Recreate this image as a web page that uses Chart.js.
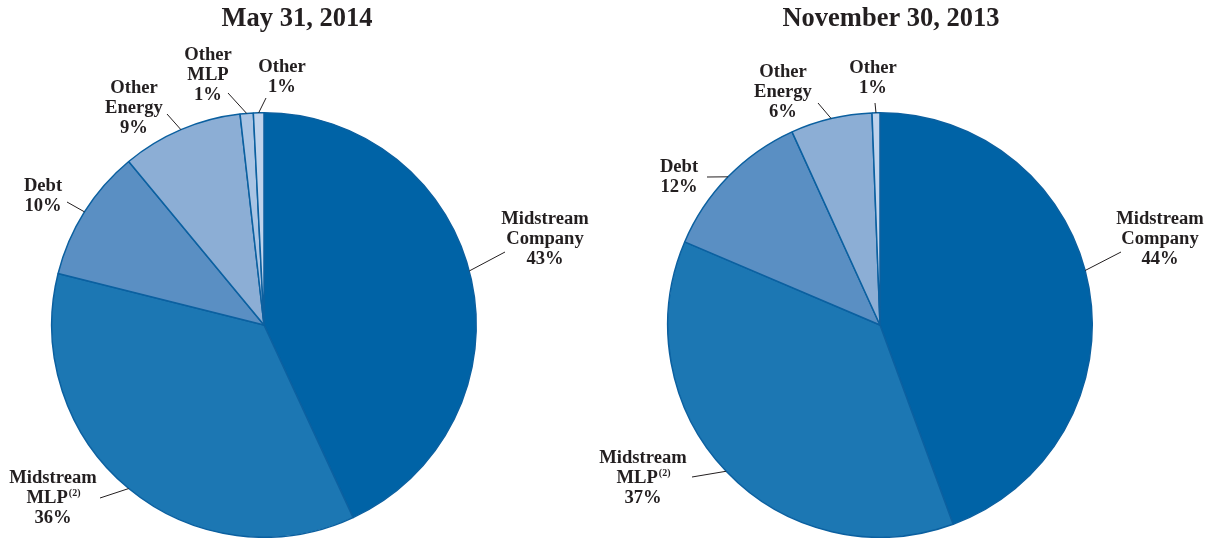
<!DOCTYPE html>
<html>
<head>
<meta charset="utf-8">
<script src="https://cdn.jsdelivr.net/npm/chart.js@4.4.1/dist/chart.umd.min.js"></script>
<style>
  html, body { margin: 0; padding: 0; background: #fff; }
  .wrap { position: absolute; top: 0; height: 538px; }
  #left { left: 0; width: 606px; }
  #right { left: 580px; width: 633px; }
</style>
</head>
<body>
<div class="wrap" id="left"><canvas id="chart-may"></canvas></div>
<div class="wrap" id="right"><canvas id="chart-nov"></canvas></div>
<script>
// --- data ---
const categories = ['Midstream Company', 'Midstream MLP', 'Debt', 'Other Energy', 'Other MLP', 'Other'];
const labelLines = [['Midstream', 'Company'], ['Midstream', 'MLP^(2)'], ['Debt'], ['Other', 'Energy'], ['Other', 'MLP'], ['Other']];
const may2014 = [43.1, 35.8, 10.1, 9.2, 1.0, 0.8];
const nov2013 = [44.4, 37.0, 11.8, 6.2, 0, 0.6];
const titles = ['May 31, 2014', 'November 30, 2013'];

const colors = ['#0063a6', '#1c77b3', '#5a8fc3', '#8caed5', '#a9c4e4', '#bfd3ec'];
const textColor = '#231f20';
const FONT = '"Liberation Serif", "Times New Roman", serif';

// label placement: [text center x, first line y, leader end x, leader end y, where on the slice the leader starts]
const mayLabelPos = [
  [545, 219, 505, 252, 0.485],
  [53, 478, 100, 498, 0.5],
  [43, 186, 67, 202, 0.5],
  [134, 88, 167, 114, 0.5],
  [208, 55, 228, 93, 0.5],
  [282, 67, 266, 98, 0.5]
];
const novLabelPos = [
  [580, 219, 541, 252, 0.47],
  [63, 458, 112, 477, 0.5],
  [99, 167, 127, 177, 0.5],
  [203, 72, 238, 103, 0.5],
  null,
  [293, 68, 295, 103, 0.5]
];

const pieLabels = {
  id: 'pieLabels',
  afterDraw(chart, args, opts) {
    const ctx = chart.ctx;
    const meta = chart.getDatasetMeta(0);
    const data = chart.data.datasets[0].data;
    ctx.save();
    // title
    ctx.fillStyle = textColor;
    ctx.font = 'bold 26.5px ' + FONT;
    ctx.textAlign = 'center';
    ctx.textBaseline = 'middle';
    ctx.fillText(opts.title, opts.titleX, 19);

    meta.data.forEach((arc, i) => {
      const pos = opts.positions[i];
      if (!pos || !data[i]) return;
      const p = arc.getProps(['x', 'y', 'startAngle', 'endAngle', 'outerRadius'], true);
      const a = p.startAngle + (p.endAngle - p.startAngle) * pos[4];
      const sx = p.x + Math.cos(a) * p.outerRadius;
      const sy = p.y + Math.sin(a) * p.outerRadius;
      ctx.strokeStyle = textColor;
      ctx.lineWidth = 1;
      ctx.beginPath();
      ctx.moveTo(sx, sy);
      ctx.lineTo(pos[2], pos[3]);
      ctx.stroke();

      const lines = labelLines[i].concat([Math.round(data[i]) + '%']);
      lines.forEach((line, j) => {
        const y = pos[1] + j * 20;
        ctx.font = 'bold 18.6px ' + FONT;
        const parts = line.split('^');
        if (parts.length === 1) {
          ctx.textAlign = 'center';
          ctx.fillText(line, pos[0], y);
        } else {
          const w1 = ctx.measureText(parts[0]).width;
          ctx.font = 'bold 10px ' + FONT;
          const w2 = ctx.measureText(parts[1]).width;
          const x0 = pos[0] - (w1 + w2) / 2;
          ctx.textAlign = 'left';
          ctx.font = 'bold 18.6px ' + FONT;
          ctx.fillText(parts[0], x0, y);
          ctx.font = 'bold 10px ' + FONT;
          ctx.fillText(parts[1], x0 + w1 + 1, y - 5);
        }
      });
    });
    ctx.restore();
  }
};

function makePie(id, values, title, titleX, positions, padLeft, width) {
  return new Chart(document.getElementById(id), {
    type: 'pie',
    data: {
      labels: categories,
      datasets: [{
        data: values,
        backgroundColor: colors,
        borderColor: '#0b60a0',
        borderWidth: 1.5
      }]
    },
    options: {
      responsive: true,
      maintainAspectRatio: false,
      animation: false,
      layout: { padding: { left: padLeft, right: width - padLeft - 426, top: 112, bottom: 0 } },
      plugins: {
        legend: { display: false },
        tooltip: { enabled: false },
        pieLabels: { title: title, titleX: titleX, positions: positions }
      }
    },
    plugins: [pieLabels]
  });
}

makePie('chart-may', may2014, titles[0], 297, mayLabelPos, 51, 606);
makePie('chart-nov', nov2013, titles[1], 311, novLabelPos, 87, 633);
</script>
</body>
</html>
